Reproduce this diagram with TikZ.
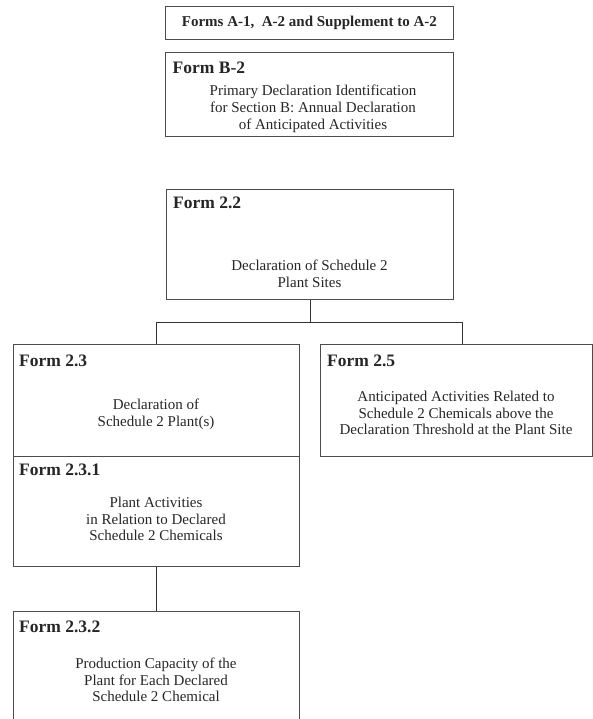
\documentclass[tikz,border=0pt]{standalone}
\usepackage{fontspec}
\setmainfont{Liberation Serif}
\usetikzlibrary{positioning}
\begin{document}
\begin{tikzpicture}[x=1pt, y=-1pt,
  formbox/.style={draw=black!70, line width=0.8pt, rectangle, inner sep=0pt, anchor=north west},
  formhead/.style={anchor=base west, inner sep=0pt, text=black!85, font=\fontsize{17.5}{20}\selectfont\bfseries},
  formtext/.style={align=center, inner sep=0pt, text=black!85, font=\fontsize{15}{16.7}\selectfont},
  link/.style={draw=black!80, line width=0.8pt}]
\useasboundingbox (0,0) rectangle (592,719);

% top forms
\node[formbox, minimum width=288, minimum height=33] (formA) at (165,6) {};
\node[formtext, font=\fontsize{15}{16.7}\selectfont\bfseries] (textA) at (formA.center) {Forms A-1,~ A-2 and Supplement to A-2};

\node[formbox, minimum width=288, minimum height=84] (formB) at (165,52) {};
\node[formhead, xshift=7.5pt, yshift=-22pt] (headB) at (formB.north west) {Form B-2};
\node[formtext] (textB) at (313,109) {Primary Declaration Identification\\for Section B: Annual Declaration\\of Anticipated Activities};

% plant sites
\node[formbox, minimum width=287, minimum height=110] (form22) at (166,189) {};
\node[formhead, xshift=7pt, yshift=-19pt] (head22) at (form22.north west) {Form 2.2};
\node[formtext] (text22) at (309.5,274) {Declaration of Schedule 2\\Plant Sites};

% plants
\node[formbox, minimum width=286.5, minimum height=112] (form23) at (12.5,344) {};
\node[formhead, xshift=6.5pt, yshift=-22.5pt] (head23) at (form23.north west) {Form 2.3};
\node[formtext] (text23) at (156,414) {Declaration of\\Schedule 2 Plant(s)};

\node[formbox, minimum width=271.5, minimum height=112] (form25) at (320,344) {};
\node[formhead, xshift=7pt, yshift=-22.5pt] (head25) at (form25.north west) {Form 2.5};
\node[formtext] (text25) at (456,413) {Anticipated Activities Related to\\Schedule 2 Chemicals above the\\Declaration Threshold at the Plant Site};

\node[formbox, minimum width=286.5, minimum height=110] (form231) at (12.5,456) {};
\node[formhead, xshift=6.5pt, yshift=-19pt] (head231) at (form231.north west) {Form 2.3.1};
\node[formtext] (text231) at (156,519) {Plant Activities\\in Relation to Declared\\Schedule 2 Chemicals};

\node[formbox, minimum width=286.5, minimum height=125] (form232) at (12.5,611) {};
\node[formhead, xshift=6.5pt, yshift=-21pt] (head232) at (form232.north west) {Form 2.3.2};
\node[formtext] (text232) at (156,680) {Production Capacity of the\\Plant for Each Declared\\Schedule 2 Chemical};

% connectors
\draw[link] (form22.south) -- ++(0,23) coordinate (bus);
\coordinate (drop25) at (462.5,344);
\draw[link] (form23.north) |- (bus) -| (drop25);
\draw[link] (form231.south) -- (form232.north);
\end{tikzpicture}
\end{document}
